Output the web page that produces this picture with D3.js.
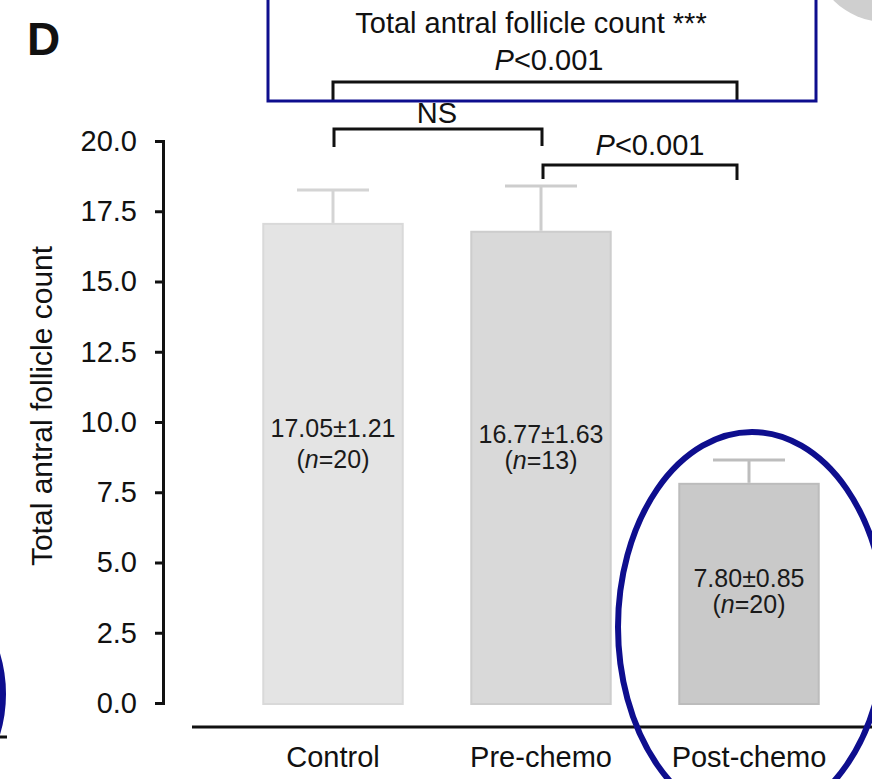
<!DOCTYPE html>
<html>
<head>
<meta charset="utf-8">
<script src="https://cdn.jsdelivr.net/npm/d3@7"></script>
<style>
  body { margin: 0; background: #fff; }
  svg { display: block; font-family: "Liberation Sans", Arial, Helvetica, sans-serif; }
</style>
</head>
<body>
<div id="chart"></div>
<script>
// data
const categories = ["Control", "Pre-chemo", "Post-chemo"];
const means = [17.05, 16.77, 7.80];
const errors = [1.21, 1.63, 0.85];
const counts = [20, 13, 20];
const yTicks = [0, 2.5, 5, 7.5, 10, 12.5, 15, 17.5, 20];
const title = "Total antral follicle count ***";
const comparisons = [
  { from: 0, to: 2, label: "P<0.001" },
  { from: 0, to: 1, label: "NS" },
  { from: 1, to: 2, label: "P<0.001" }
];

const barFills = ["#e4e4e4", "#d9d9d9", "#c9c9c9"];
const barStrokes = ["#d9d9d9", "#cdcdcd", "#bcbcbc"];
const errColors = ["#d4d4d4", "#cdcdcd", "#bdbdbd"];
const blue = "#0e0e8e";

const W = 872, H = 779;

const svg = d3.select("#chart").append("svg")
  .attr("width", W)
  .attr("height", H);

const x = d3.scaleBand()
  .domain(categories)
  .range([229, 853])
  .paddingInner(0.32)
  .paddingOuter(0.16);

const y = d3.scaleLinear()
  .domain([0, 20])
  .range([703, 141]);

const data = categories.map((c, i) => ({ cat: c, mean: means[i], err: errors[i], n: counts[i], i }));

// panel letter
svg.append("text")
  .attr("x", 27).attr("y", 55)
  .attr("font-size", 46).attr("font-weight", "bold")
  .attr("fill", "#111")
  .text("D");

// grey blob top right (neighbouring panel)
svg.append("circle")
  .attr("cx", 885).attr("cy", -50).attr("r", 72)
  .attr("fill", "#cfcfcf");

// bars
svg.selectAll(".bar").data(data).join("rect")
  .attr("class", "bar")
  .attr("x", d => x(d.cat) + 1)
  .attr("width", x.bandwidth() - 2)
  .attr("y", d => y(d.mean))
  .attr("height", d => y(0) - y(d.mean) + 1)
  .attr("fill", d => barFills[d.i])
  .attr("stroke", d => barStrokes[d.i])
  .attr("stroke-width", 2);

// error bars
const cx = d => x(d.cat) + x.bandwidth() / 2;
const eb = svg.selectAll(".err").data(data).join("g").attr("class", "err")
  .attr("stroke", d => errColors[d.i])
  .attr("stroke-width", 3);
eb.append("line")
  .attr("x1", cx).attr("x2", cx)
  .attr("y1", d => y(d.mean) - 1).attr("y2", d => y(d.mean + d.err));
eb.append("line")
  .attr("x1", d => cx(d) - 36).attr("x2", d => cx(d) + 36)
  .attr("y1", d => y(d.mean + d.err)).attr("y2", d => y(d.mean + d.err));

// value labels inside bars (two lines in one text element)
const labelBase = [437, 443, 587];
const labelGap = [31, 26, 26];
const vl = svg.selectAll(".vlab").data(data).join("text").attr("class", "vlab")
  .attr("font-size", 25).attr("fill", "#1a1a1a").attr("text-anchor", "middle")
  .attr("x", cx).attr("y", d => labelBase[d.i]);
vl.append("tspan")
  .attr("x", cx)
  .text(d => d.mean.toFixed(2) + "\u00b1" + d.err.toFixed(2));
vl.append("tspan").attr("x", cx).attr("dy", d => labelGap[d.i]).text("(");
vl.append("tspan").attr("font-style", "italic").text("n");
vl.append("tspan").text(d => "=" + d.n + ")");

// y axis
const yAxis = svg.append("g")
  .attr("transform", "translate(163,0)")
  .call(d3.axisLeft(y).tickValues(yTicks).tickFormat(d3.format(".1f"))
    .tickSize(8).tickPadding(18));
yAxis.select(".domain").attr("stroke", "#111").attr("stroke-width", 3);
yAxis.selectAll(".tick line").attr("stroke", "#111").attr("stroke-width", 3);
yAxis.selectAll(".tick text").attr("font-size", 29).attr("fill", "#111")
  .attr("font-family", "Liberation Sans, Arial, sans-serif");

svg.append("text")
  .attr("transform", "translate(52,406) rotate(-90)")
  .attr("text-anchor", "middle")
  .attr("font-size", 30).attr("fill", "#111")
  .text("Total antral follicle count");

// x axis: long baseline below the bars
const xAxis = svg.append("g")
  .attr("transform", "translate(0,727)")
  .call(d3.axisBottom(x).tickSize(0).tickPadding(19));
xAxis.select(".domain").attr("d", "M192,0H880").attr("stroke", "#111").attr("stroke-width", 3);
xAxis.selectAll(".tick text").attr("font-size", 29).attr("fill", "#111")
  .attr("font-family", "Liberation Sans, Arial, sans-serif");

// significance brackets
const bracketTop = [82, 129, 165];
const bracketLegs = [[100, 101], [147, 146], [179, 180]];
const legNudge = [[0, -12], [1, 1], [2, -12]];
const labelPos = [[549, 70], [437, 123], [650, 155]];

comparisons.forEach((c, k) => {
  const x0 = x(categories[c.from]) + x.bandwidth() / 2 + legNudge[k][0];
  const x1 = x(categories[c.to]) + x.bandwidth() / 2 + legNudge[k][1];
  const top = bracketTop[k];
  svg.append("path")
    .attr("d", d3.line()([[x0, bracketLegs[k][0]], [x0, top], [x1, top], [x1, bracketLegs[k][1]]]))
    .attr("fill", "none").attr("stroke", "#111").attr("stroke-width", 3);
  const t = svg.append("text")
    .attr("x", labelPos[k][0]).attr("y", labelPos[k][1])
    .attr("text-anchor", "middle").attr("font-size", 29).attr("fill", "#111");
  if (c.label.startsWith("P")) {
    t.append("tspan").attr("font-style", "italic").text("P");
    t.append("tspan").text(c.label.slice(1));
  } else {
    t.text(c.label);
  }
});

// header in the blue box
svg.append("text")
  .attr("x", 531).attr("y", 33)
  .attr("text-anchor", "middle").attr("font-size", 29).attr("fill", "#111")
  .text(title);

svg.append("rect")
  .attr("x", 268).attr("y", -10)
  .attr("width", 548).attr("height", 111)
  .attr("fill", "none").attr("stroke", blue).attr("stroke-width", 3);

// blue highlight ellipses
svg.append("ellipse")
  .attr("cx", 752).attr("cy", 627).attr("rx", 134).attr("ry", 195)
  .attr("fill", "none").attr("stroke", blue).attr("stroke-width", 6);

svg.append("ellipse")
  .attr("cx", -97).attr("cy", 694).attr("rx", 100).attr("ry", 118)
  .attr("fill", "none").attr("stroke", blue).attr("stroke-width", 6);

svg.append("line")
  .attr("x1", 0).attr("x2", 7).attr("y1", 737).attr("y2", 737)
  .attr("stroke", "#111").attr("stroke-width", 3);
</script>
</body>
</html>
